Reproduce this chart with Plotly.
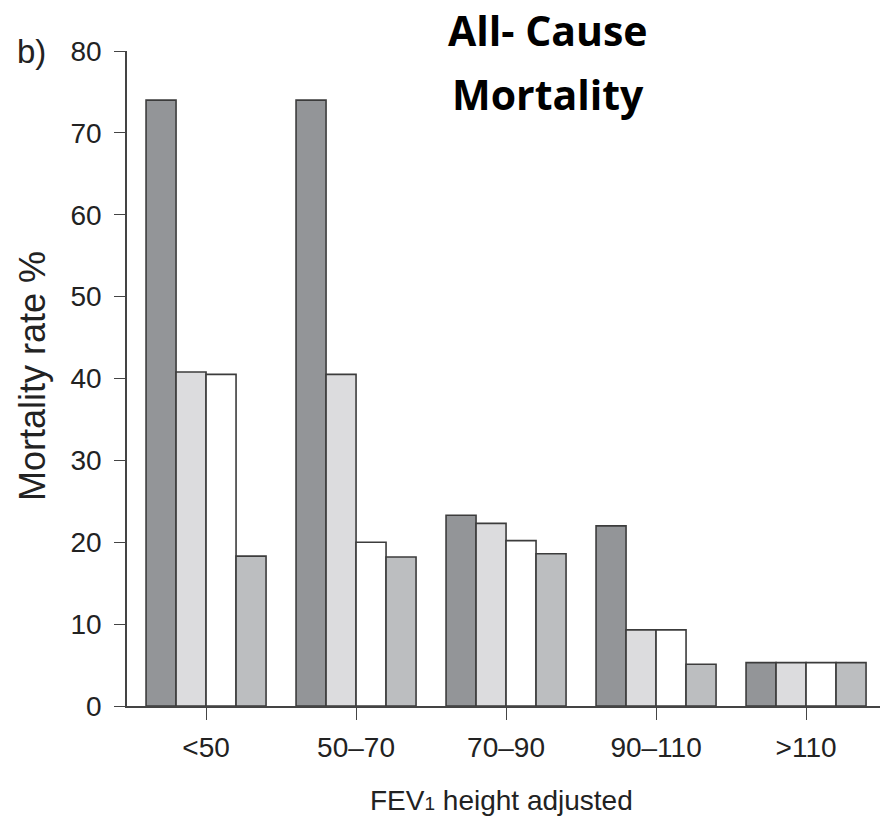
import plotly.graph_objects as go

categories = ["<50", "50–70", "70–90", "90–110", ">110"]
series_1 = [74.0, 74.0, 23.3, 22.0, 5.3]
series_2 = [40.8, 40.5, 22.3, 9.3, 5.3]
series_3 = [40.5, 20.0, 20.2, 9.3, 5.3]
series_4 = [18.3, 18.2, 18.6, 5.1, 5.3]
y_ticks = [0, 10, 20, 30, 40, 50, 60, 70, 80]

fills = ["#939598", "#dcdcde", "#ffffff", "#bcbec0"]
series = [series_1, series_2, series_3, series_4]

W, H = 883, 824
L, R, T, B = 127, 3, 51, 118
pw, ph = W - L - R, H - T - B

def px_x(x):
    return (x - L) / pw

def px_y(y):
    return (H - B - y) / ph

REG = "Liberation Sans, Arial, Helvetica, sans-serif"
TITLE = "Open Sans, Noto Sans, sans-serif"

fig = go.Figure()
for vals, c in zip(series, fills):
    fig.add_trace(go.Bar(
        x=categories, y=vals, marker=dict(color=c, line=dict(color="#3c3c3c", width=1.6)),
        showlegend=False, hoverinfo="skip"))

fig.update_layout(
    width=W, height=H,
    margin=dict(l=L, r=R, t=T, b=B),
    paper_bgcolor="white", plot_bgcolor="white",
    barmode="group", bargap=0.2, bargroupgap=0,
    xaxis=dict(type="category", range=[-0.527, 4.493], showgrid=False, zeroline=False,
               showline=True, linecolor="#444", linewidth=1.5,
               ticks="outside", ticklen=12, tickwidth=1.2, tickcolor="#444",
               tickfont=dict(family=REG, size=28, color="#222"),
               ticklabelstandoff=4),
    yaxis=dict(range=[0, 80], tickvals=y_ticks, showgrid=False, zeroline=False,
               showline=True, linecolor="#444", linewidth=1.5,
               ticks="outside", ticklen=11, tickwidth=1.2, tickcolor="#444",
               tickfont=dict(family=REG, size=28, color="#222"),
               ticklabelstandoff=7),
    annotations=[
        dict(text="All- Cause", x=px_x(548), y=px_y(0.5), xref="paper", yref="paper",
             showarrow=False, xanchor="center", yanchor="top", borderpad=0,
             font=dict(family=TITLE, size=41, color="black", weight="bold")),
        dict(text="Mortality", x=px_x(548), y=px_y(94), xref="paper", yref="paper",
             showarrow=False, xanchor="center", yanchor="middle",
             font=dict(family=TITLE, size=41, color="black", weight="bold")),
        dict(text="b)", x=px_x(31), y=px_y(51), xref="paper", yref="paper",
             showarrow=False, xanchor="center", yanchor="middle",
             font=dict(family=REG, size=33, color="#222")),
        dict(text="Mortality rate %", x=px_x(32), y=px_y(376), xref="paper", yref="paper",
             showarrow=False, xanchor="center", yanchor="middle", textangle=-90,
             font=dict(family=REG, size=36, color="#222")),
        dict(text='FEV<span style="font-size:19px">1</span> height adjusted',
             x=px_x(501), y=px_y(801), xref="paper", yref="paper",
             showarrow=False, xanchor="center", yanchor="middle",
             font=dict(family=REG, size=28, color="#222")),
    ],
)

fig.write_html("out.html", config={"displayModeBar": False},
               post_script="document.body.style.margin='0';")
